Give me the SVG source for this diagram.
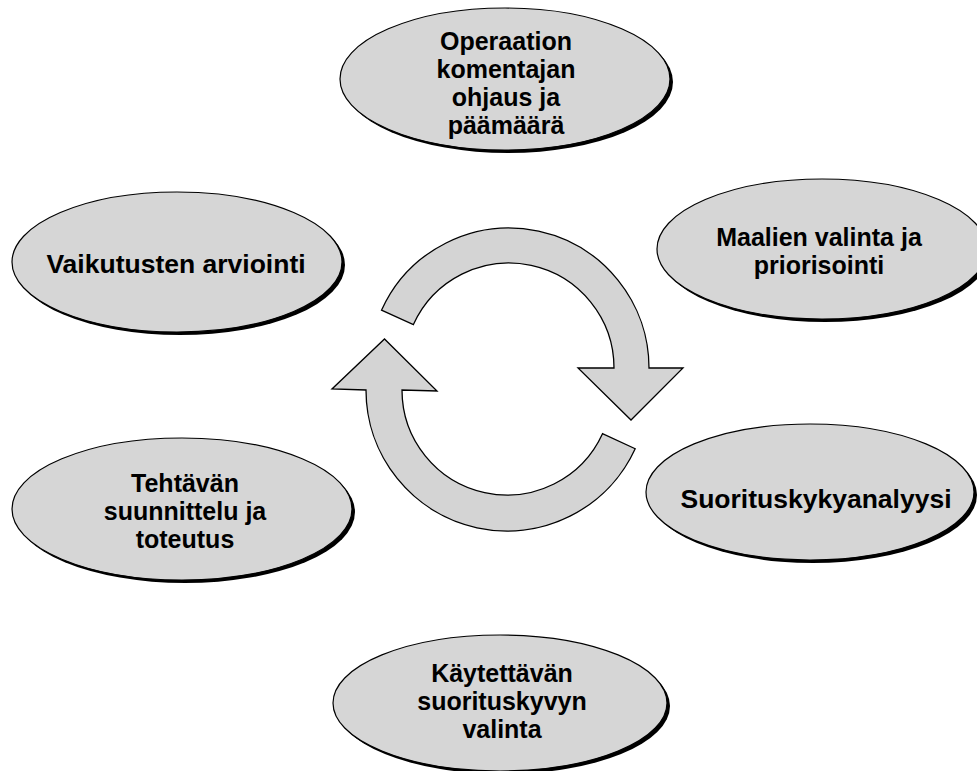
<svg xmlns="http://www.w3.org/2000/svg" width="977" height="771" viewBox="0 0 977 771">
<style>
.sh{fill:#000}
.el{fill:#d6d6d6;stroke:#000;stroke-width:1.2}
.t{font-family:"Liberation Sans",Arial,sans-serif;font-weight:bold;font-size:25px;fill:#000;text-anchor:middle}
.big{font-size:26.5px}
.arr{fill:#d4d4d4;stroke:#000;stroke-width:1.3;stroke-linejoin:miter}
</style>
<rect width="977" height="771" fill="#fff"/>
<g id="connectors">
<path class="arr" d="M 381.5 310.2 A 140 140 0 0 1 649 368 L 683 368 L 631 420 L 578 368 L 614 368 A 105 105 0 0 0 413.4 324.6 Z"/>
<path class="arr" d="M 635.2 448.7 A 141 141 0 0 1 366 390 L 332 389 L 384.5 339 L 437 391 L 402 390 A 105 105 0 0 0 602.5 433.7 Z"/>
</g>
<g id="n1">
<ellipse class="sh" cx="508" cy="82" rx="165" ry="71"/>
<ellipse class="el" cx="505" cy="79" rx="165" ry="71"/>
<text class="t" x="506" y="50">Operaation</text>
<text class="t" x="506" y="78">komentajan</text>
<text class="t" x="506" y="106">ohjaus ja</text>
<text class="t" x="506" y="134">päämäärä</text>
</g>
<g id="n2">
<ellipse class="sh" cx="825" cy="252" rx="165" ry="70"/>
<ellipse class="el" cx="822" cy="249" rx="165" ry="70"/>
<text class="t" x="819" y="246">Maalien valinta ja</text>
<text class="t" x="819" y="274">priorisointi</text>
</g>
<g id="n3">
<ellipse class="sh" cx="813" cy="495" rx="164" ry="68"/>
<ellipse class="el" cx="810" cy="492" rx="164" ry="68"/>
<text class="t big" x="816" y="508">Suorituskykyanalyysi</text>
</g>
<g id="n4">
<ellipse class="sh" cx="503" cy="706" rx="167" ry="68"/>
<ellipse class="el" cx="500" cy="703" rx="167" ry="68"/>
<text class="t" x="502" y="682">Käytettävän</text>
<text class="t" x="502" y="710">suorituskyvyn</text>
<text class="t" x="502" y="738">valinta</text>
</g>
<g id="n5">
<ellipse class="sh" cx="185" cy="512" rx="170" ry="71"/>
<ellipse class="el" cx="182" cy="509" rx="170" ry="71"/>
<text class="t" x="185" y="492">Tehtävän</text>
<text class="t" x="185" y="520">suunnittelu ja</text>
<text class="t" x="185" y="548">toteutus</text>
</g>
<g id="n6">
<ellipse class="sh" cx="180" cy="265" rx="165" ry="70"/>
<ellipse class="el" cx="177" cy="262" rx="165" ry="70"/>
<text class="t big" x="176" y="273">Vaikutusten arviointi</text>
</g>
</svg>
